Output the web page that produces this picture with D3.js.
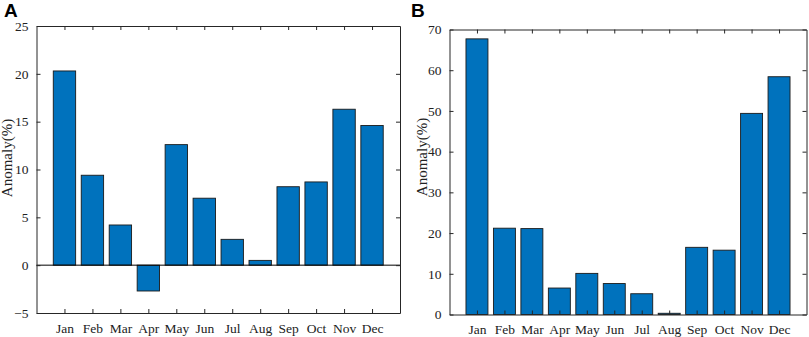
<!DOCTYPE html>
<html>
<head>
<meta charset="utf-8">
<script src="https://cdn.jsdelivr.net/npm/d3@7"></script>
<style>
  body { margin: 0; background: #fff; }
  svg text { font-family: "Liberation Serif", "Times New Roman", serif; }
</style>
</head>
<body>
<svg id="chart" width="809" height="337"></svg>
<script>
const months = ["Jan", "Feb", "Mar", "Apr", "May", "Jun", "Jul", "Aug", "Sep", "Oct", "Nov", "Dec"];
const anomalyA = [20.3, 9.4, 4.2, -2.7, 12.6, 7.0, 2.7, 0.5, 8.2, 8.7, 16.3, 14.6];
const anomalyB = [67.7, 21.2, 21.1, 6.5, 10.1, 7.6, 5.1, 0.3, 16.5, 15.8, 49.4, 58.4];
const ticksA = [-5, 0, 5, 10, 15, 20, 25];
const ticksB = [0, 10, 20, 30, 40, 50, 60, 70];

const svg = d3.select("#chart");

function drawPanel(opts) {
  const { values, yDomain, yTicks, left, right, top, bottom, letter, letterX, labelX, labelY } = opts;

  const x = d3.scaleLinear().domain([0, 13]).range([left, right]);
  const y = d3.scaleLinear().domain(yDomain).range([bottom, top]);
  const step = x(1) - x(0);
  const barW = step * 0.8;

  const g = svg.append("g");

  // bars
  g.selectAll("rect")
    .data(values)
    .enter().append("rect")
    .attr("x", (d, i) => x(i + 1) - barW / 2)
    .attr("y", d => y(Math.max(0, d)))
    .attr("width", barW)
    .attr("height", d => Math.abs(y(d) - y(0)))
    .attr("fill", "#0072BD")
    .attr("stroke", "#1a1a1a")
    .attr("stroke-width", 0.9);

  // baseline at zero
  if (yDomain[0] < 0) {
    g.append("line")
      .attr("x1", left).attr("x2", right)
      .attr("y1", y(0)).attr("y2", y(0))
      .attr("stroke", "#000").attr("stroke-width", 1);
  }

  const tickLen = 4;
  const axisColor = "#262626";

  // bottom axis
  const gx = g.append("g").attr("transform", `translate(0,${bottom})`)
    .call(d3.axisBottom(x)
      .tickValues(d3.range(1, 13))
      .tickFormat(d => months[d - 1])
      .tickSizeInner(-tickLen).tickSizeOuter(0).tickPadding(10));

  // top axis (ticks only)
  const gxt = g.append("g").attr("transform", `translate(0,${top})`)
    .call(d3.axisTop(x).tickValues(d3.range(1, 13)).tickFormat("").tickSizeInner(-tickLen).tickSizeOuter(0));

  // left axis
  const gy = g.append("g").attr("transform", `translate(${left},0)`)
    .call(d3.axisLeft(y).tickValues(yTicks).tickSizeInner(-tickLen).tickSizeOuter(0).tickPadding(8));

  // right axis (ticks only)
  const gyr = g.append("g").attr("transform", `translate(${right},0)`)
    .call(d3.axisRight(y).tickValues(yTicks).tickFormat("").tickSizeInner(-tickLen).tickSizeOuter(0));

  [gx, gxt, gy, gyr].forEach(a => {
    a.select(".domain").attr("stroke", axisColor).attr("stroke-width", 1);
    a.selectAll(".tick line").attr("stroke", axisColor);
    a.selectAll("text")
      .attr("fill", "#222")
      .style("font-size", "13.5px")
      .style("font-family", "'Liberation Serif', serif");
  });

  // axis title
  g.append("text")
    .attr("transform", `translate(${labelX},${labelY}) rotate(-90)`)
    .attr("text-anchor", "middle")
    .attr("fill", "#222")
    .style("font-size", "15px")
    .text("Anomaly(%)");

  // panel letter
  g.append("text")
    .attr("x", letterX)
    .attr("y", 17)
    .style("font-family", "'Liberation Sans', Arial, sans-serif")
    .style("font-weight", "bold")
    .style("font-size", "19px")
    .attr("fill", "#000")
    .text(letter);
}

drawPanel({
  values: anomalyA, yDomain: [-5, 25], yTicks: ticksA,
  left: 36.5, right: 400, top: 26, bottom: 313,
  letter: "A", letterX: 4, labelX: 12, labelY: 158
});

drawPanel({
  values: anomalyB, yDomain: [0, 70], yTicks: ticksB,
  left: 449.5, right: 806.5, top: 29.5, bottom: 314.5,
  letter: "B", letterX: 411, labelX: 427, labelY: 157
});
</script>
</body>
</html>
